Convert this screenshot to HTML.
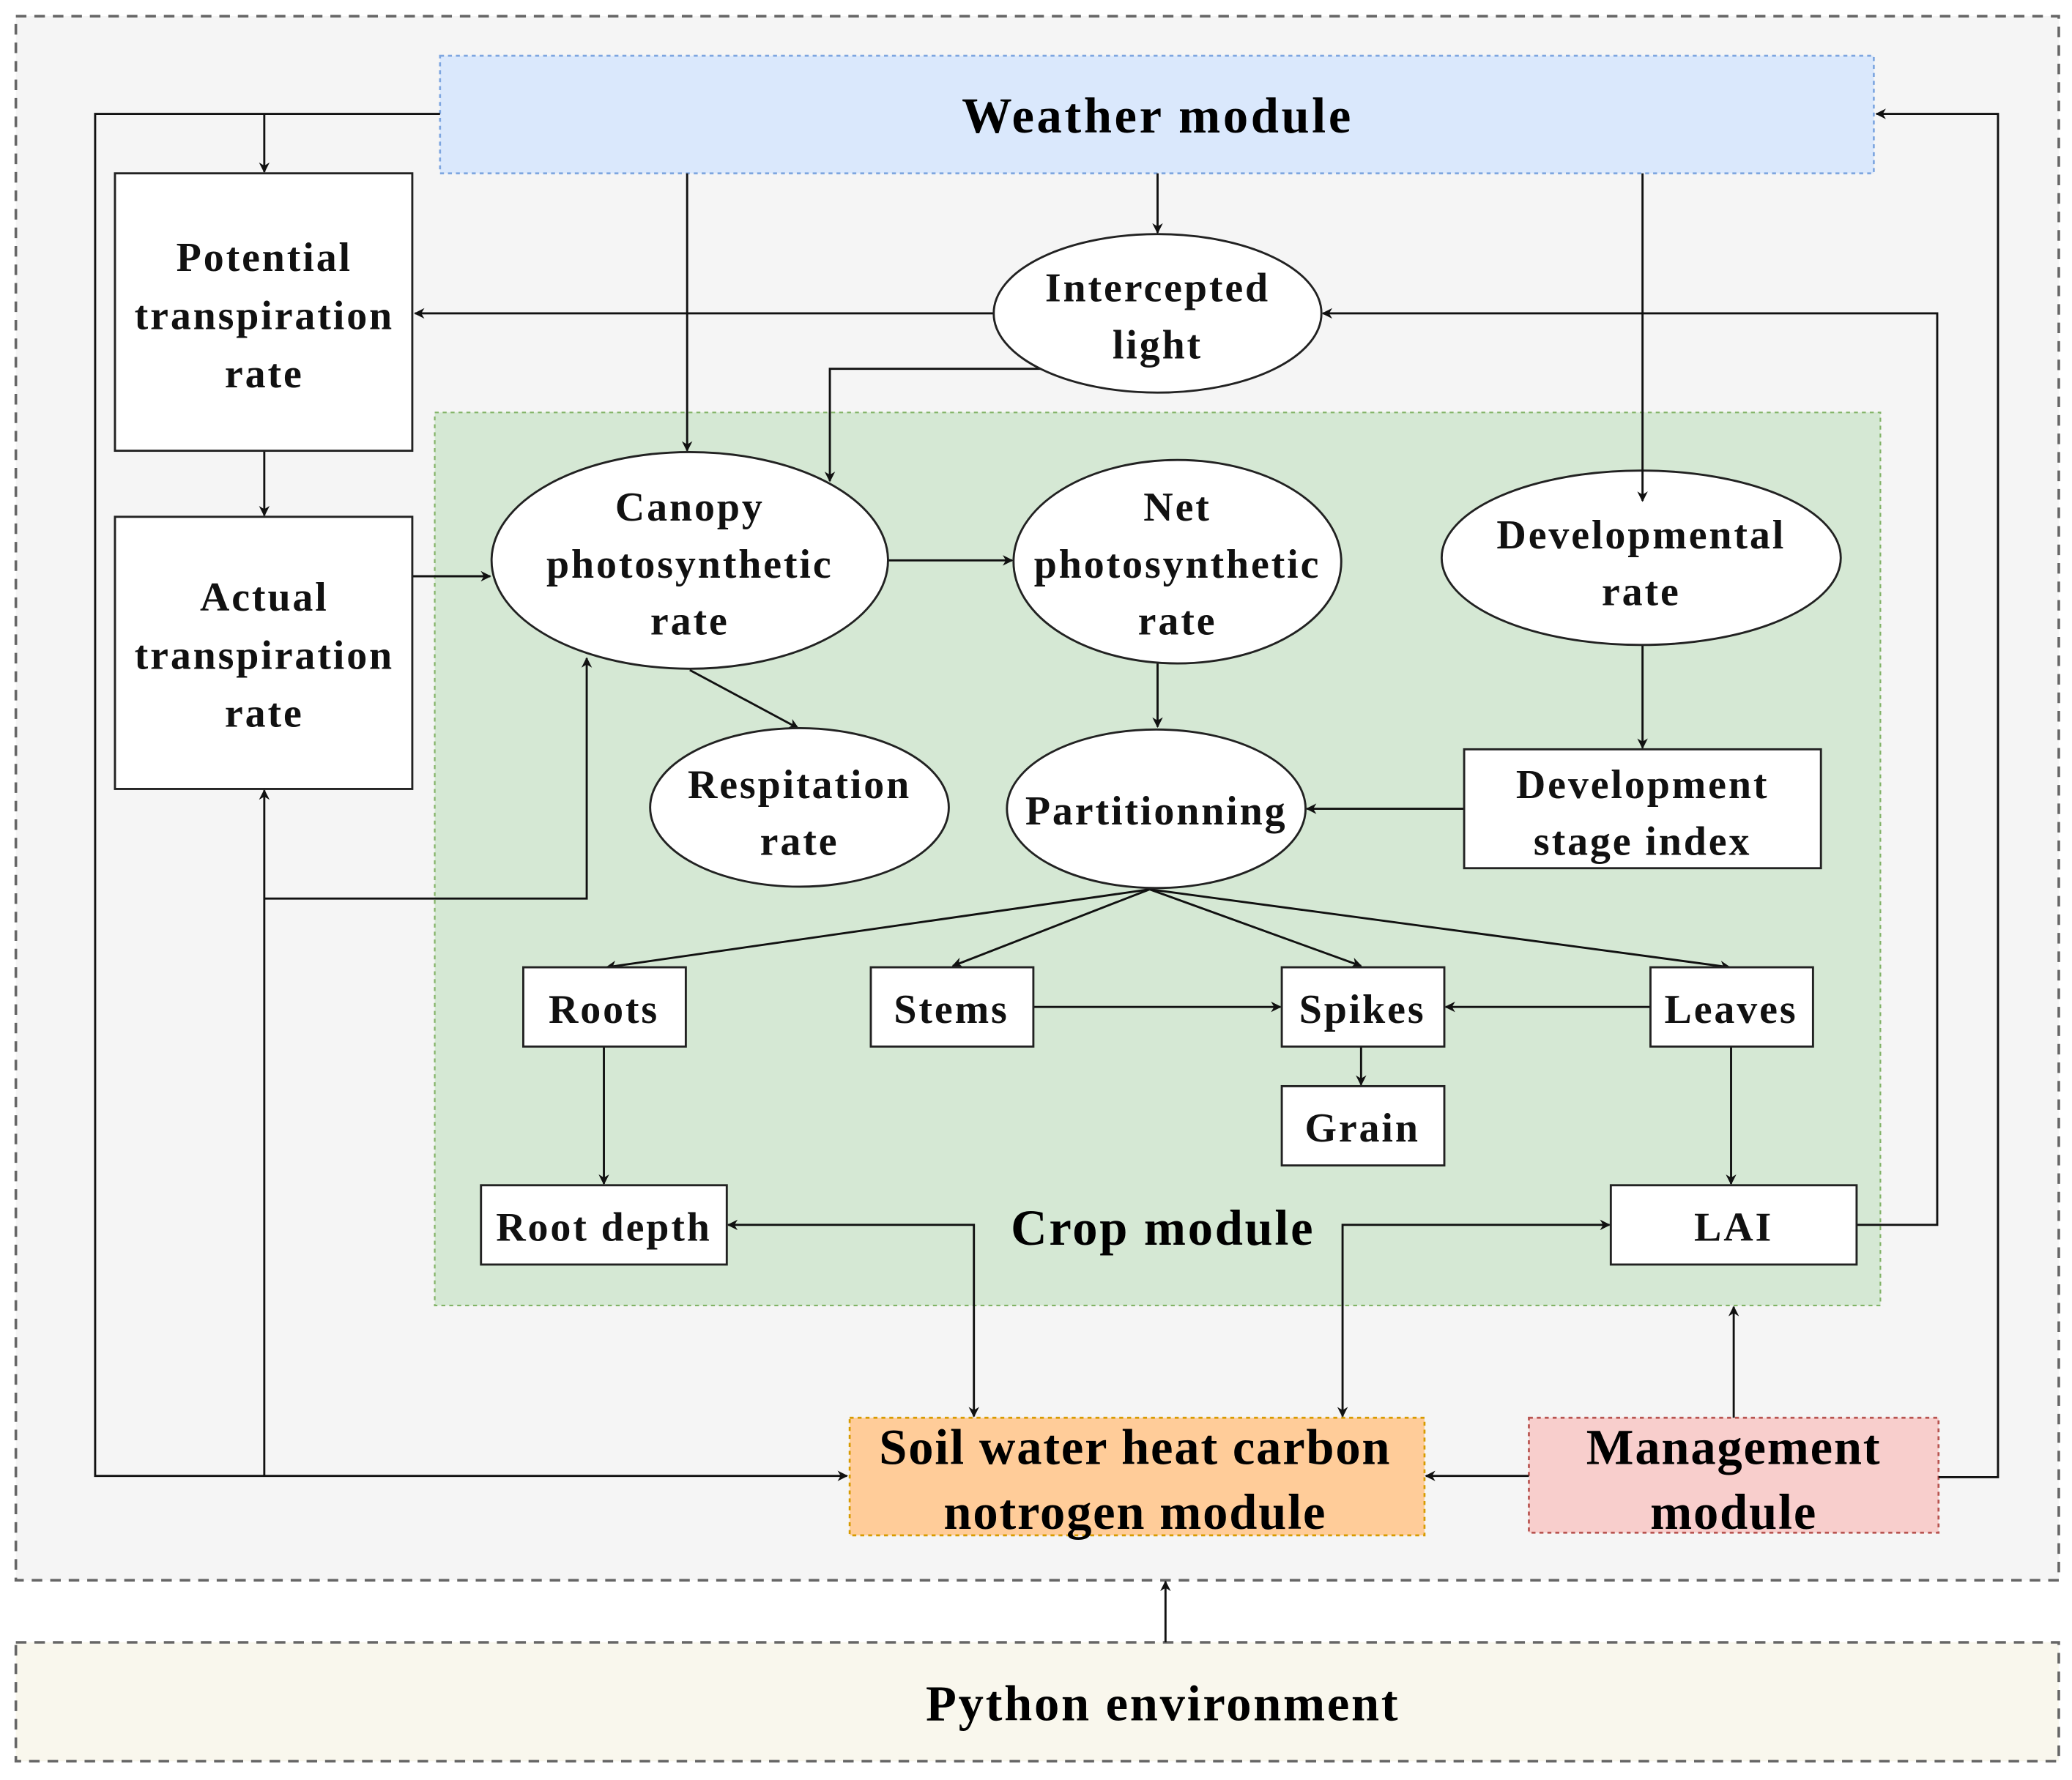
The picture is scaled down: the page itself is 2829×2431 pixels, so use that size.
<!DOCTYPE html>
<html><head><meta charset="utf-8"><style>html,body{margin:0;padding:0;background:#fff}svg{display:block}</style></head>
<body>
<svg width="2829" height="2431" viewBox="0 0 1568 1347" xmlns="http://www.w3.org/2000/svg" font-family="Liberation Serif, serif" font-weight="bold">
<defs>
<marker id="a" viewBox="0 0 10 10" refX="9" refY="5" markerWidth="8" markerHeight="8" orient="auto-start-reverse" markerUnits="userSpaceOnUse">
<path d="M0,0 L10,5 L0,10 L3,5 z" fill="#111"/></marker>
</defs>
<rect x="0" y="0" width="1568" height="1347" fill="#fff"/>
<rect x="12" y="12" width="1546" height="1184" fill="#f5f5f5" stroke="#666" stroke-width="2" stroke-dasharray="8,6"/>
<rect x="12" y="1243" width="1546" height="90" fill="#f9f7ed" stroke="#666" stroke-width="2" stroke-dasharray="8,6"/>
<text x="880" y="1302" font-size="38" text-anchor="middle" letter-spacing="1.5">Python environment</text>
<rect x="333" y="42" width="1085" height="89" fill="#dae8fc" stroke="#7ea6e0" stroke-width="1.5" stroke-dasharray="3,3"/>
<text x="876" y="100" font-size="38" text-anchor="middle" letter-spacing="2">Weather module</text>
<rect x="329" y="312" width="1094" height="676" fill="#d5e8d4" stroke="#82b366" stroke-width="1.2" stroke-dasharray="3,3"/>
<text x="880" y="942" font-size="38" text-anchor="middle" letter-spacing="1.5">Crop module</text>
<rect x="643" y="1073" width="435" height="89" fill="#ffcc99" stroke="#d79b00" stroke-width="1.5" stroke-dasharray="3,3"/>
<text x="859" y="1108" font-size="38" text-anchor="middle" letter-spacing="1">Soil water heat carbon</text>
<text x="859" y="1157" font-size="38" text-anchor="middle" letter-spacing="1">notrogen module</text>
<rect x="1157" y="1073" width="310" height="87" fill="#f8cecc" stroke="#b85450" stroke-width="1.5" stroke-dasharray="3,3"/>
<text x="1312" y="1108" font-size="38" text-anchor="middle" letter-spacing="1">Management</text>
<text x="1312" y="1157" font-size="38" text-anchor="middle" letter-spacing="1">module</text>

<g fill="none" stroke="#111" stroke-width="1.6">
<polyline points="333,86 72,86 72,1117 641,1117" marker-end="url(#a)"/>
<line x1="200" y1="86" x2="200" y2="130" marker-end="url(#a)"/>
<line x1="520" y1="131" x2="520" y2="341" marker-end="url(#a)"/>
<line x1="876" y1="131" x2="876" y2="176" marker-end="url(#a)"/>
<polyline points="1467,1118 1512,1118 1512,86 1420,86" marker-end="url(#a)"/>
<line x1="752" y1="237" x2="314" y2="237" marker-end="url(#a)"/>
<polyline points="1405,927 1466,927 1466,237 1001,237" marker-end="url(#a)"/>
<polyline points="790,279 628,279 628,364" marker-end="url(#a)"/>
<line x1="200" y1="341" x2="200" y2="390" marker-end="url(#a)"/>
<line x1="312" y1="436" x2="371" y2="436" marker-end="url(#a)"/>
<line x1="672" y1="424" x2="766" y2="424" marker-end="url(#a)"/>
<line x1="522" y1="507" x2="604" y2="551" marker-end="url(#a)"/>
<line x1="876" y1="502" x2="876" y2="550" marker-end="url(#a)"/>
<line x1="1243" y1="488" x2="1243" y2="566" marker-end="url(#a)"/>
<line x1="1108" y1="612" x2="989" y2="612" marker-end="url(#a)"/>
<line x1="870" y1="673" x2="459" y2="732" marker-end="url(#a)"/>
<line x1="870" y1="673" x2="721" y2="731" marker-end="url(#a)"/>
<line x1="870" y1="673" x2="1030" y2="731" marker-end="url(#a)"/>
<line x1="870" y1="673" x2="1309" y2="732" marker-end="url(#a)"/>
<line x1="782" y1="762" x2="969" y2="762" marker-end="url(#a)"/>
<line x1="1249" y1="762" x2="1094" y2="762" marker-end="url(#a)"/>
<line x1="1030" y1="792" x2="1030" y2="821" marker-end="url(#a)"/>
<line x1="457" y1="792" x2="457" y2="896" marker-end="url(#a)"/>
<line x1="1310" y1="792" x2="1310" y2="896" marker-end="url(#a)"/>
<polyline points="737,1072 737,927 551,927" marker-start="url(#a)" marker-end="url(#a)"/>
<polyline points="1016,1072 1016,927 1218,927" marker-start="url(#a)" marker-end="url(#a)"/>
<line x1="1312" y1="1073" x2="1312" y2="989" marker-end="url(#a)"/>
<line x1="1157" y1="1117" x2="1079" y2="1117" marker-end="url(#a)"/>
<line x1="200" y1="1117" x2="200" y2="598" marker-end="url(#a)"/>
<polyline points="200,680 444,680 444,498" marker-end="url(#a)"/>
<line x1="882" y1="1243" x2="882" y2="1197" marker-end="url(#a)"/>
</g>

<g fill="#fff" stroke="#222" stroke-width="1.6">
<rect x="87" y="131" width="225" height="210"/>
<rect x="87" y="391" width="225" height="206"/>
<ellipse cx="876" cy="237" rx="124" ry="60"/>
<ellipse cx="522" cy="424" rx="150" ry="82"/>
<ellipse cx="891" cy="425" rx="124" ry="77"/>
<ellipse cx="1242" cy="422" rx="151" ry="66"/>
<ellipse cx="605" cy="611" rx="113" ry="60"/>
<ellipse cx="875" cy="612" rx="113" ry="60"/>
<rect x="1108" y="567" width="270" height="90"/>
<rect x="396" y="732" width="123" height="60"/>
<rect x="659" y="732" width="123" height="60"/>
<rect x="970" y="732" width="123" height="60"/>
<rect x="1249" y="732" width="123" height="60"/>
<rect x="970" y="822" width="123" height="60"/>
<rect x="364" y="897" width="186" height="60"/>
<rect x="1219" y="897" width="186" height="60"/>
</g>
<line x1="1243" y1="131" x2="1243" y2="379" stroke="#111" stroke-width="1.6" marker-end="url(#a)"/>

<g font-size="31" text-anchor="middle" fill="#111" letter-spacing="1.6">
<text x="200" y="205">Potential</text><text x="200" y="249">transpiration</text><text x="200" y="293">rate</text>
<text x="200" y="462">Actual</text><text x="200" y="506">transpiration</text><text x="200" y="550">rate</text>
<text x="876" y="228">Intercepted</text><text x="876" y="271">light</text>
<text x="522" y="394">Canopy</text><text x="522" y="437">photosynthetic</text><text x="522" y="480">rate</text>
<text x="891" y="394">Net</text><text x="891" y="437">photosynthetic</text><text x="891" y="480">rate</text>
<text x="1242" y="415">Developmental</text><text x="1242" y="458">rate</text>
<text x="605" y="604">Respitation</text><text x="605" y="647">rate</text>
<text x="875" y="624">Partitionning</text>
<text x="1243" y="604">Development</text><text x="1243" y="647">stage index</text>
<text x="457" y="774">Roots</text>
<text x="720" y="774">Stems</text>
<text x="1031" y="774">Spikes</text>
<text x="1310" y="774">Leaves</text>
<text x="1031" y="864">Grain</text>
<text x="457" y="939">Root depth</text>
<text x="1312" y="939">LAI</text>
</g>
</svg>
</body></html>
